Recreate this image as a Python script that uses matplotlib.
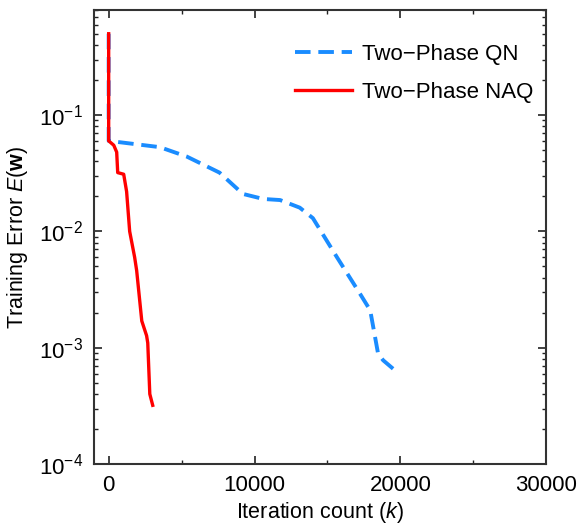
import matplotlib
matplotlib.use('Agg')
import matplotlib.pyplot as plt
from matplotlib.ticker import LogLocator, MultipleLocator, NullFormatter

plt.rcParams['font.family'] = ['Liberation Sans', 'DejaVu Sans']
plt.rcParams['mathtext.fontset'] = 'custom'
plt.rcParams['mathtext.rm'] = 'Liberation Sans'
plt.rcParams['mathtext.it'] = 'Liberation Sans:italic'
plt.rcParams['mathtext.bf'] = 'Liberation Sans:bold'

# Two-Phase QN (dashed blue)
qn_iter = [0, 0, 3500, 5350, 7600, 9200, 10600, 11750, 13100, 14000,
           15650, 17240, 17930, 18470, 18820, 19500]
qn_err = [0.5, 0.06, 0.053, 0.044, 0.032, 0.021, 0.019, 0.0186, 0.016, 0.013,
          0.006, 0.0029, 0.0021, 0.00089, 0.00078, 0.00066]

# Two-Phase NAQ (solid red)
naq_iter = [0, 0, 350, 550, 620, 1030, 1230, 1440, 1780, 1920,
            2270, 2600, 2680, 2820, 3020]
naq_err = [0.5, 0.06, 0.055, 0.048, 0.032, 0.031, 0.022, 0.01, 0.006, 0.0046,
           0.0017, 0.00127, 0.0011, 0.0004, 0.00032]

fig = plt.figure(figsize=(5.88, 5.25), dpi=100)
ax = fig.add_axes([0.160, 0.116, 0.769, 0.865])

ax.plot(qn_iter, qn_err, '--', color='#1a8cff', lw=2.8, dashes=(4, 2),
        label='Two\u2212Phase QN')
ax.plot(naq_iter, naq_err, '-', color='#ff0000', lw=2.4,
        label='Two\u2212Phase NAQ')

ax.set_yscale('log')
ax.set_xlim(-1000, 30000)
ax.set_ylim(1e-4, 0.8)
ax.xaxis.set_major_locator(MultipleLocator(10000))
ax.xaxis.set_minor_locator(MultipleLocator(5000))
ax.yaxis.set_major_locator(LogLocator(base=10, numticks=10))
ax.yaxis.set_minor_locator(LogLocator(base=10, subs=range(2, 10), numticks=20))
ax.yaxis.set_minor_formatter(NullFormatter())

ax.tick_params(which='both', direction='in', top=True, right=True,
               labelsize=16, colors='#222222', labelcolor='black')
ax.tick_params(which='major', length=6, width=1.2, pad=8)
ax.tick_params(which='minor', length=3, width=1.0)
for s in ax.spines.values():
    s.set_linewidth(1.5)
    s.set_color('#333333')

ax.set_xlabel('Iteration count ($\\mathit{k}$)', fontsize=15.5, labelpad=3)
ax.set_ylabel('Training Error $\\mathit{E}$($\\mathbf{w}$)', fontsize=15.5, labelpad=6)

ax.legend(loc='upper right', bbox_to_anchor=(0.992, 0.945), frameon=False,
          fontsize=16, handlelength=2.6, handletextpad=0.45, labelspacing=0.78,
          borderaxespad=0)

fig.savefig('out.png', dpi=100)
